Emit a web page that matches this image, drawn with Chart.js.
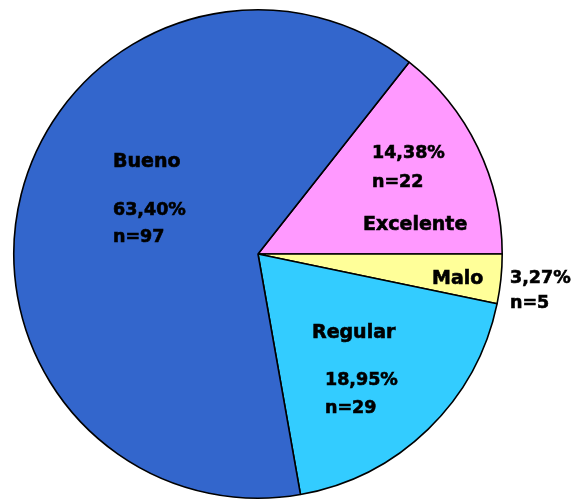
<!DOCTYPE html>
<html>
<head>
<meta charset="utf-8">
<script src="https://cdn.jsdelivr.net/npm/chart.js@4"></script>
<style>
    html, body { margin: 0; padding: 0; background: #fff; }
    #wrap { width: 572px; height: 501px; }
</style>
</head>
<body>
<div id="wrap"><canvas id="pie-chart"></canvas></div>
<script>
// Slices are listed clockwise, starting at the Excelente/Bueno boundary
const categories = ["Excelente", "Malo", "Regular", "Bueno"];
const percentages = [14.38, 3.27, 18.95, 63.4];
const counts = [22, 5, 29, 97];
const sliceColors = ["#ff99ff", "#ffff99", "#33ccff", "#3366cc"];

// where each slice's text block sits, as offsets from the pie centre
const labelBlocks = {
    Excelente: [["pct", 114, -96], ["n", 114, -67], ["name", 105, -24]],
    Malo: [["name", 174, 30], ["pct", 252, 29], ["n", 252, 54]],
    Regular: [["name", 54, 84], ["pct", 67, 131], ["n", 67, 159]],
    Bueno: [["name", -145, -87], ["pct", -145, -39], ["n", -145, -12]],
};

const fmtPct = (v) => v.toFixed(2).replace(".", ",") + "%";

const sliceText = {
    id: "sliceText",
    afterDraw(chart) {
        const ctx = chart.ctx;
        const arc = chart.getDatasetMeta(0).data[0];
        const cx = arc.x;
        const cy = arc.y;
        ctx.save();
        ctx.fillStyle = "#000";
        ctx.strokeStyle = "#000";
        ctx.lineWidth = 0.6;
        ctx.textAlign = "left";
        ctx.textBaseline = "alphabetic";
        categories.forEach((cat, i) => {
            labelBlocks[cat].forEach(([kind, dx, dy]) => {
                let txt = cat;
                ctx.font = "bold 19px 'DejaVu Sans'";
                if (kind === "pct") txt = fmtPct(percentages[i]);
                if (kind === "n") txt = "n=" + counts[i];
                if (kind !== "name") ctx.font = "bold 17.5px 'DejaVu Sans'";
                ctx.fillText(txt, cx + dx, cy + dy);
                // thicken the glyphs a little
                ctx.strokeText(txt, cx + dx, cy + dy);
            });
        });
        ctx.restore();
    },
};

const startAngle = 90 - percentages[0] * 3.6;

new Chart(document.getElementById("pie-chart"), {
    type: "pie",
    data: {
        labels: categories,
        datasets: [
            {
                data: percentages,
                backgroundColor: sliceColors,
                borderColor: "#000",
                borderWidth: 1.6,
            },
        ],
    },
    options: {
        responsive: true,
        maintainAspectRatio: false,
        animation: false,
        rotation: startAngle,
        layout: {
            padding: { left: 13, right: 69, top: 9, bottom: 2 },
        },
        plugins: {
            legend: { display: false },
            tooltip: { enabled: false },
        },
    },
    plugins: [sliceText],
});
</script>
</body>
</html>
